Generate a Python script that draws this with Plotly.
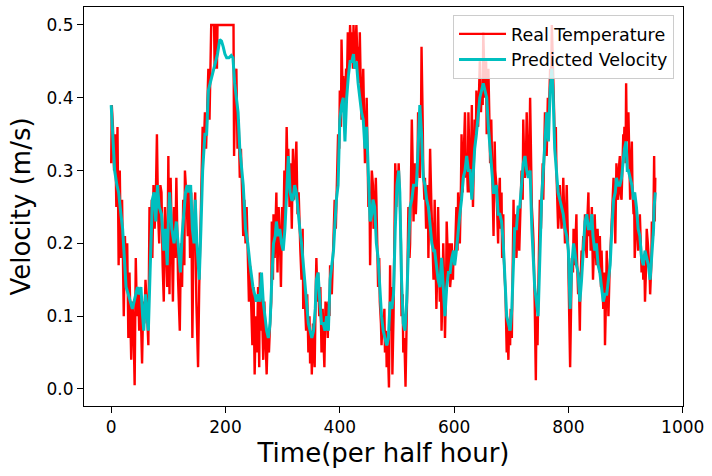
import plotly.graph_objects as go

# Real series (time index, value)
real_t = [0, 1, 3, 5, 7, 9, 11, 13, 15, 17, 19, 22, 24, 26, 28, 30, 32, 33, 35, 37, 39, 41, 43, 45, 47, 49, 51, 54, 56, 58,
          60, 62, 65, 67, 69, 71, 72, 74, 76, 78, 80, 82, 84, 86, 88, 90, 92, 94, 96, 98, 100, 102, 104, 106, 108, 110, 112, 114, 117, 120,
          122, 124, 126, 128, 129, 132, 134, 136, 138, 140, 142, 144, 147, 149, 152, 154, 156, 158, 160, 162, 164, 166, 168, 170, 172, 174, 175, 180, 181, 182,
          184, 185, 186, 214, 215, 217, 219, 221, 223, 225, 227, 229, 231, 233, 235, 237, 239, 241, 243, 245, 247, 249, 251, 253, 255, 257, 259, 260, 262, 263,
          265, 266, 268, 270, 272, 274, 276, 278, 280, 281, 283, 284, 286, 289, 291, 293, 295, 297, 299, 301, 303, 305, 307, 309, 310, 312, 314, 316, 318, 320,
          322, 324, 326, 328, 331, 333, 335, 336, 338, 341, 343, 345, 347, 348, 350, 351, 353, 354, 356, 358, 359, 361, 362, 364, 366, 368, 370, 371, 373, 375,
          377, 379, 380, 382, 383, 386, 389, 391, 393, 395, 397, 399, 400, 402, 403, 405, 406, 408, 409, 411, 412, 414, 416, 418, 420, 421, 423, 424, 426, 428,
          429, 431, 432, 434, 435, 437, 438, 440, 441, 443, 444, 446, 447, 449, 450, 452, 453, 455, 456, 458, 459, 461, 463, 464, 466, 467, 469, 470, 472, 473,
          475, 476, 478, 479, 481, 482, 484, 486, 488, 489, 491, 492, 494, 496, 497, 499, 500, 502, 503, 505, 507, 508, 510, 511, 513, 515, 517, 518, 520, 522,
          523, 525, 526, 528, 529, 531, 533, 534, 536, 537, 539, 540, 542, 543, 545, 546, 548, 549, 551, 552, 554, 555, 557, 558, 560, 561, 563, 564, 566, 567,
          569, 571, 572, 574, 575, 577, 578, 580, 581, 583, 584, 586, 587, 589, 590, 592, 593, 595, 596, 598, 599, 601, 603, 604, 606, 607, 609, 610, 612, 613,
          615, 616, 618, 619, 621, 622, 624, 625, 627, 628, 630, 631, 632, 633, 635, 636, 638, 639, 641, 642, 644, 645, 647, 648, 650, 651, 653, 654, 656, 657,
          659, 660, 662, 663, 665, 666, 668, 669, 671, 672, 674, 675, 677, 678, 680, 681, 683, 684, 686, 687, 689, 690, 692, 693, 695, 696, 698, 699, 701, 702,
          704, 705, 706, 708, 709, 711, 712, 714, 715, 717, 718, 720, 721, 723, 724, 726, 727, 729, 730, 732, 733, 735, 736, 738, 739, 741, 743, 744, 746, 747,
          749, 750, 752, 753, 755, 756, 758, 759, 761, 762, 764, 765, 767, 768, 770, 771, 772, 773, 775, 776, 778, 779, 781, 782, 784, 785, 787, 788, 790, 791,
          793, 794, 796, 797, 799, 800, 802, 803, 805, 806, 808, 809, 811, 812, 814, 815, 817, 818, 820, 821, 823, 824, 826, 827, 829, 830, 832, 833, 835, 836,
          838, 839, 841, 842, 843, 845, 846, 848, 849, 851, 852, 854, 855, 857, 858, 860, 861, 863, 864, 866, 867, 869, 870, 872, 873, 875, 876, 878, 879, 881,
          882, 884, 885, 887, 888, 890, 891, 893, 894, 896, 897, 898, 900, 901, 902, 903, 905, 906, 908, 909, 911, 912, 914, 915, 916, 918, 919, 921, 922, 924,
          925, 927, 928, 930, 931, 933, 934, 936, 937, 939, 940, 942, 943, 945, 946, 948, 949, 950, 951, 952]
real_v = [0.31, 0.39, 0.36, 0.30, 0.35, 0.25, 0.36, 0.17, 0.30, 0.18, 0.26, 0.10, 0.21, 0.15, 0.20, 0.07, 0.16, 0.11, 0.04, 0.12, 0.09, 0.005, 0.18, 0.10, 0.14, 0.08, 0.13, 0.035, 0.12, 0.09,
          0.15, 0.12, 0.06, 0.25, 0.21, 0.26, 0.18, 0.28, 0.22, 0.26, 0.35, 0.24, 0.20, 0.28, 0.27, 0.17, 0.12, 0.25, 0.19, 0.14, 0.32, 0.13, 0.29, 0.17, 0.12, 0.25, 0.18, 0.29, 0.15, 0.08,
          0.20, 0.14, 0.26, 0.17, 0.30, 0.26, 0.21, 0.28, 0.18, 0.27, 0.07, 0.20, 0.27, 0.12, 0.03, 0.14, 0.22, 0.26, 0.36, 0.33, 0.38, 0.33, 0.41, 0.44, 0.37, 0.45, 0.50, 0.50, 0.44, 0.50,
          0.50, 0.44, 0.50, 0.50, 0.32, 0.42, 0.44, 0.33, 0.37, 0.29, 0.33, 0.27, 0.21, 0.26, 0.20, 0.25, 0.16, 0.12, 0.17, 0.10, 0.06, 0.14, 0.02, 0.10, 0.05, 0.14, 0.03, 0.16, 0.08, 0.14,
          0.06, 0.04, 0.12, 0.06, 0.02, 0.08, 0.05, 0.09, 0.12, 0.23, 0.15, 0.24, 0.18, 0.27, 0.16, 0.25, 0.21, 0.14, 0.25, 0.20, 0.30, 0.25, 0.36, 0.28, 0.33, 0.25, 0.31, 0.22, 0.33, 0.26,
          0.30, 0.34, 0.24, 0.27, 0.19, 0.15, 0.22, 0.11, 0.14, 0.08, 0.13, 0.05, 0.10, 0.035, 0.08, 0.02, 0.09, 0.06, 0.03, 0.14, 0.18, 0.12, 0.16, 0.10, 0.14, 0.05, 0.11, 0.08, 0.03, 0.12,
          0.11, 0.07, 0.12, 0.10, 0.17, 0.13, 0.21, 0.26, 0.22, 0.30, 0.35, 0.33, 0.41, 0.36, 0.48, 0.40, 0.43, 0.37, 0.40, 0.44, 0.40, 0.49, 0.44, 0.50, 0.45, 0.49, 0.44, 0.50, 0.44, 0.49,
          0.50, 0.45, 0.47, 0.42, 0.49, 0.40, 0.37, 0.41, 0.44, 0.35, 0.31, 0.36, 0.40, 0.30, 0.25, 0.27, 0.17, 0.27, 0.30, 0.28, 0.22, 0.23, 0.29, 0.26, 0.20, 0.14, 0.18, 0.12, 0.09, 0.06,
          0.10, 0.08, 0.11, 0.05, 0.08, 0.03, 0.06, 0.002, 0.17, 0.08, 0.14, 0.02, 0.10, 0.22, 0.31, 0.25, 0.30, 0.28, 0.31, 0.26, 0.20, 0.10, 0.13, 0.05, 0.07, 0.003, 0.08, 0.14, 0.25, 0.18,
          0.20, 0.28, 0.37, 0.29, 0.23, 0.31, 0.24, 0.26, 0.31, 0.38, 0.32, 0.29, 0.36, 0.47, 0.37, 0.30, 0.26, 0.29, 0.22, 0.24, 0.28, 0.18, 0.25, 0.33, 0.26, 0.22, 0.18, 0.15, 0.26, 0.19,
          0.11, 0.18, 0.25, 0.16, 0.12, 0.15, 0.08, 0.14, 0.20, 0.13, 0.07, 0.15, 0.23, 0.18, 0.16, 0.20, 0.14, 0.16, 0.20, 0.15, 0.19, 0.17, 0.21, 0.25, 0.19, 0.27, 0.23, 0.20, 0.28, 0.35,
          0.27, 0.30, 0.34, 0.38, 0.29, 0.32, 0.27, 0.38, 0.31, 0.27, 0.33, 0.39, 0.30, 0.25, 0.33, 0.37, 0.34, 0.41, 0.38, 0.36, 0.42, 0.45, 0.38, 0.41, 0.39, 0.49, 0.43, 0.40, 0.45, 0.35,
          0.38, 0.44, 0.36, 0.31, 0.37, 0.33, 0.27, 0.21, 0.34, 0.30, 0.28, 0.24, 0.20, 0.26, 0.29, 0.22, 0.27, 0.18, 0.24, 0.18, 0.14, 0.13, 0.05, 0.09, 0.04, 0.08, 0.06, 0.11, 0.07, 0.16,
          0.26, 0.19, 0.20, 0.24, 0.18, 0.22, 0.25, 0.19, 0.22, 0.27, 0.30, 0.26, 0.37, 0.30, 0.29, 0.33, 0.38, 0.31, 0.29, 0.34, 0.40, 0.30, 0.25, 0.22, 0.20, 0.12, 0.012, 0.10, 0.06, 0.12,
          0.19, 0.26, 0.22, 0.27, 0.31, 0.26, 0.33, 0.38, 0.35, 0.32, 0.40, 0.36, 0.41, 0.44, 0.43, 0.50, 0.47, 0.42, 0.38, 0.34, 0.36, 0.30, 0.26, 0.22, 0.25, 0.28, 0.24, 0.22, 0.25, 0.29,
          0.23, 0.20, 0.24, 0.28, 0.21, 0.15, 0.10, 0.03, 0.13, 0.18, 0.16, 0.22, 0.17, 0.20, 0.24, 0.18, 0.13, 0.16, 0.08, 0.14, 0.19, 0.17, 0.21, 0.19, 0.24, 0.20, 0.18, 0.23, 0.27, 0.21,
          0.22, 0.19, 0.25, 0.20, 0.15, 0.20, 0.24, 0.19, 0.17, 0.22, 0.20, 0.16, 0.21, 0.14, 0.19, 0.15, 0.11, 0.16, 0.06, 0.13, 0.19, 0.14, 0.10, 0.16, 0.18, 0.21, 0.24, 0.27, 0.29, 0.24,
          0.20, 0.31, 0.27, 0.26, 0.30, 0.32, 0.27, 0.26, 0.31, 0.35, 0.33, 0.36, 0.31, 0.42, 0.35, 0.34, 0.38, 0.31, 0.26, 0.29, 0.34, 0.28, 0.24, 0.27, 0.18, 0.22, 0.25, 0.22, 0.19, 0.21,
          0.24, 0.19, 0.16, 0.18, 0.15, 0.17, 0.12, 0.17, 0.22, 0.20, 0.19, 0.16, 0.13, 0.17, 0.23, 0.21, 0.25, 0.32, 0.23, 0.29]

# Predicted series (time index, value)
pred_t = [0, 3, 6, 10, 13, 17, 20, 23, 26, 30, 33, 37, 40, 43, 46, 49, 52, 55, 57, 60, 63, 65, 68, 70, 72, 75, 78, 81, 84, 88,
          92, 95, 98, 100, 102, 106, 110, 114, 118, 121, 124, 127, 130, 133, 136, 139, 142, 145, 147, 150, 154, 157, 160, 164, 167, 170, 173, 176, 179, 182,
          186, 190, 193, 196, 199, 202, 206, 210, 213, 216, 219, 222, 225, 228, 231, 235, 239, 243, 246, 248, 251, 254, 257, 260, 263, 266, 269, 272, 275, 278,
          281, 284, 287, 289, 292, 295, 298, 301, 304, 307, 310, 313, 316, 318, 321, 324, 327, 330, 333, 336, 339, 341, 345, 348, 351, 354, 357, 359, 362, 365,
          368, 371, 374, 377, 380, 383, 386, 389, 391, 394, 397, 400, 403, 406, 409, 412, 415, 418, 421, 424, 426, 429, 432, 435, 438, 441, 444, 447, 450, 453,
          456, 458, 461, 464, 467, 470, 473, 476, 479, 482, 485, 488, 491, 494, 497, 500, 503, 505, 508, 511, 514, 517, 520, 523, 526, 529, 531, 534, 537, 540,
          543, 546, 549, 552, 555, 558, 561, 564, 566, 569, 572, 575, 578, 581, 584, 587, 590, 593, 596, 599, 601, 604, 607, 610, 613, 616, 619, 622, 625, 628,
          631, 633, 636, 639, 642, 645, 648, 651, 654, 657, 660, 663, 666, 669, 671, 674, 677, 680, 683, 686, 689, 692, 695, 698, 701, 704, 706, 709, 712, 715,
          718, 721, 724, 727, 730, 733, 736, 739, 741, 744, 747, 750, 753, 756, 759, 762, 765, 768, 771, 773, 776, 779, 782, 785, 788, 791, 794, 797, 800, 803,
          806, 809, 811, 814, 817, 820, 823, 826, 829, 832, 835, 838, 841, 843, 846, 849, 852, 855, 858, 861, 864, 867, 870, 873, 876, 879, 882, 884, 887, 890,
          893, 896, 898, 901, 903, 905, 908, 911, 914, 916, 919, 922, 925, 928, 931, 934, 937, 940, 943, 946, 949, 950, 952]
pred_v = [0.39, 0.34, 0.30, 0.28, 0.27, 0.24, 0.22, 0.18, 0.14, 0.13, 0.12, 0.11, 0.12, 0.13, 0.14, 0.13, 0.14, 0.10, 0.08, 0.13, 0.10, 0.08, 0.16, 0.22, 0.26, 0.27, 0.23, 0.28, 0.25, 0.24,
          0.19, 0.22, 0.17, 0.23, 0.27, 0.22, 0.20, 0.23, 0.19, 0.16, 0.21, 0.24, 0.27, 0.28, 0.27, 0.28, 0.22, 0.20, 0.26, 0.20, 0.15, 0.22, 0.30, 0.35, 0.35, 0.41, 0.42, 0.43, 0.44, 0.45,
          0.46, 0.48, 0.478, 0.47, 0.46, 0.455, 0.455, 0.458, 0.455, 0.42, 0.40, 0.38, 0.33, 0.30, 0.28, 0.22, 0.20, 0.17, 0.15, 0.14, 0.13, 0.12, 0.13, 0.12, 0.16, 0.12, 0.10, 0.08, 0.07, 0.09,
          0.15, 0.20, 0.21, 0.23, 0.21, 0.22, 0.20, 0.19, 0.22, 0.27, 0.32, 0.27, 0.26, 0.26, 0.28, 0.27, 0.24, 0.22, 0.20, 0.17, 0.14, 0.12, 0.09, 0.08, 0.07, 0.08, 0.11, 0.15, 0.16, 0.12,
          0.09, 0.09, 0.08, 0.10, 0.08, 0.15, 0.17, 0.19, 0.22, 0.26, 0.28, 0.37, 0.39, 0.40, 0.34, 0.40, 0.43, 0.45, 0.45, 0.46, 0.44, 0.45, 0.42, 0.40, 0.38, 0.37, 0.33, 0.36, 0.30, 0.23,
          0.24, 0.26, 0.25, 0.20, 0.18, 0.14, 0.10, 0.08, 0.07, 0.06, 0.07, 0.12, 0.11, 0.13, 0.22, 0.28, 0.30, 0.27, 0.15, 0.09, 0.08, 0.12, 0.19, 0.25, 0.26, 0.28, 0.28, 0.28, 0.33, 0.39,
          0.35, 0.29, 0.28, 0.26, 0.25, 0.22, 0.20, 0.19, 0.19, 0.17, 0.15, 0.14, 0.18, 0.14, 0.10, 0.14, 0.16, 0.16, 0.18, 0.19, 0.17, 0.19, 0.22, 0.24, 0.26, 0.29, 0.30, 0.32, 0.30, 0.30,
          0.26, 0.29, 0.33, 0.35, 0.38, 0.40, 0.41, 0.42, 0.41, 0.40, 0.36, 0.33, 0.30, 0.27, 0.27, 0.28, 0.24, 0.24, 0.23, 0.20, 0.15, 0.10, 0.09, 0.08, 0.11, 0.19, 0.22, 0.22, 0.25, 0.25,
          0.28, 0.31, 0.32, 0.30, 0.29, 0.30, 0.22, 0.17, 0.14, 0.12, 0.10, 0.18, 0.26, 0.30, 0.34, 0.38, 0.34, 0.41, 0.44, 0.41, 0.33, 0.30, 0.27, 0.26, 0.25, 0.24, 0.22, 0.21, 0.19, 0.11,
          0.17, 0.20, 0.19, 0.17, 0.16, 0.12, 0.15, 0.20, 0.23, 0.24, 0.22, 0.22, 0.24, 0.21, 0.19, 0.20, 0.17, 0.16, 0.14, 0.12, 0.13, 0.13, 0.15, 0.17, 0.22, 0.26, 0.27, 0.29, 0.28, 0.28,
          0.29, 0.31, 0.33, 0.34, 0.30, 0.30, 0.29, 0.28, 0.26, 0.27, 0.25, 0.22, 0.21, 0.18, 0.17, 0.19, 0.18, 0.17, 0.15, 0.18, 0.22, 0.25, 0.27]

x_ticks = [0, 200, 400, 600, 800, 1000]
y_ticks = [0.0, 0.1, 0.2, 0.3, 0.4, 0.5]

fig = go.Figure()

fig.add_trace(go.Scatter(
    x=real_t, y=real_v, mode="lines", name="Real Temperature",
    line=dict(color="#ff0000", width=2.4)
))
fig.add_trace(go.Scatter(
    x=pred_t, y=pred_v, mode="lines", name="Predicted Velocity",
    line=dict(color="#00bfbf", width=3)
))

axis_common = dict(
    showgrid=False, zeroline=False, showline=True, linecolor="black", linewidth=1,
    mirror=True, ticks="outside", ticklen=6, tickcolor="black", automargin=False,
    tickfont=dict(size=17, color="black"),
)

fig.update_layout(
    width=712, height=476,
    margin=dict(l=84, r=29, t=7, b=70),
    plot_bgcolor="white", paper_bgcolor="white",
    font=dict(family="DejaVu Sans", color="black"),
    xaxis=dict(range=[-47.6, 1000.5], tickvals=x_ticks,
               title=dict(text="Time(per half hour)", font=dict(size=26), standoff=7),
               **axis_common),
    yaxis=dict(range=[-0.0234, 0.5247], tickvals=y_ticks, tickformat=".1f",
               title=dict(text="Velocity (m/s)", font=dict(size=26), standoff=8),
               **axis_common),
    legend=dict(x=0.985, xanchor="right", y=0.98, yanchor="top",
                bgcolor="rgba(255,255,255,0.8)", bordercolor="#cccccc", borderwidth=1,
                font=dict(size=17.5), itemwidth=47, tracegroupgap=0),
    showlegend=True,
)

# drop the default 8 px page margin so the figure sits at the window corner
fig.write_html("out.html", config={"displayModeBar": False},
               post_script="document.body.style.margin='0';")
